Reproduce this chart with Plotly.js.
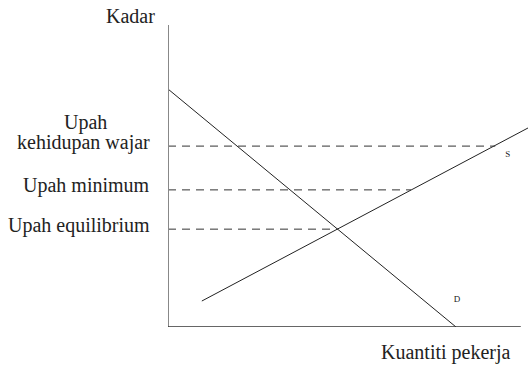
<!DOCTYPE html>
<html>
<head>
<meta charset="utf-8">
<script src="https://cdn.plot.ly/plotly-3.0.1.min.js"></script>
<style>
  body { margin: 0; background: #fff; }
  #plot { width: 528px; height: 365px; }
</style>
</head>
<body>
<div id="plot"></div>
<script>
// labour market: demand / supply of workers vs wage
const demandX = [0, 80];
const demandY = [78.8, 0];
const supplyX = [9.4, 100];
const supplyY = [8.6, 65.9];

const wageLabels = [['Upah', 'kehidupan wajar'], ['Upah minimum'], ['Upah equilibrium']];
const wageLevels = [59.9, 45.4, 32.4];
const wageEnds = [90.9, 67.5, 47.1];

const curveNames = ['S', 'D'];
const curveLabelX = [94.4, 80.3];
const curveLabelY = [56.9, 8.9];

const yTitle = 'Kadar';
const xTitle = 'Kuantiti pekerja';

const serif = 'Liberation Serif';
const ink = '#222';

let traces = [
    {
        x: demandX, y: demandY, type: 'scatter', mode: 'lines',
        line: { color: '#222', width: 1 }, hoverinfo: 'skip'
    },
    {
        x: supplyX, y: supplyY, type: 'scatter', mode: 'lines',
        line: { color: '#222', width: 1 }, hoverinfo: 'skip'
    }
];

// dashed wage levels from the axis out to the supply curve
for (let i = 0; i < wageLevels.length; i++) {
    traces.push({
        x: [0, wageEnds[i]], y: [wageLevels[i], wageLevels[i]],
        type: 'scatter', mode: 'lines',
        line: { color: '#333', width: 1, dash: '8px,6px' }, hoverinfo: 'skip'
    });
}

traces.push({
    x: curveLabelX, y: curveLabelY, text: curveNames,
    type: 'scatter', mode: 'text',
    textfont: { family: serif, size: 9, color: ink }, hoverinfo: 'skip'
});

// wage labels left of the axis, one annotation per line (tighter leading than <br>)
let annotations = [];
wageLabels.forEach((lines, i) => {
    lines.forEach((t, j) => {
        annotations.push({
            text: t, xref: 'paper', yref: 'y', x: -0.044, y: wageLevels[i],
            xanchor: j < lines.length - 1 ? 'center' : 'right',
            yanchor: 'middle', showarrow: false,
            xshift: j < lines.length - 1 ? -67 : 0,
            yshift: 4 + (lines.length - 1 - j) * 20,
            font: { family: serif, size: 20, color: ink }
        });
    });
});

annotations.push(
    { text: yTitle, xref: 'paper', yref: 'paper', x: -0.031, y: 1.03,
      xanchor: 'right', yanchor: 'middle', showarrow: false,
      font: { family: serif, size: 20, color: ink } },
    { text: xTitle, xref: 'paper', yref: 'paper', x: 0.958, y: -0.083,
      xanchor: 'right', yanchor: 'middle', showarrow: false,
      font: { family: serif, size: 20, color: ink } }
);

let layout = {
    width: 528, height: 365,
    margin: { l: 168, r: 0, t: 25, b: 38 },
    paper_bgcolor: '#fff', plot_bgcolor: '#fff',
    showlegend: false,
    font: { family: serif, color: ink },
    xaxis: {
        range: [0, 100], showgrid: false, zeroline: false, showline: false,
        showticklabels: false, ticks: '', fixedrange: true
    },
    yaxis: {
        range: [0, 100], showgrid: false, zeroline: false, showline: false,
        showticklabels: false, ticks: '', fixedrange: true
    },
    shapes: [
        { type: 'line', xref: 'x', yref: 'y', x0: 0, x1: 0, y0: 0, y1: 100,
          line: { color: '#888', width: 2 } },
        { type: 'line', xref: 'x', yref: 'y', x0: 0, x1: 98, y0: 0, y1: 0,
          line: { color: '#333', width: 1.5 } }
    ],
    annotations: annotations
};

Plotly.newPlot('plot', traces, layout, { staticPlot: true, displayModeBar: false });
</script>
</body>
</html>
